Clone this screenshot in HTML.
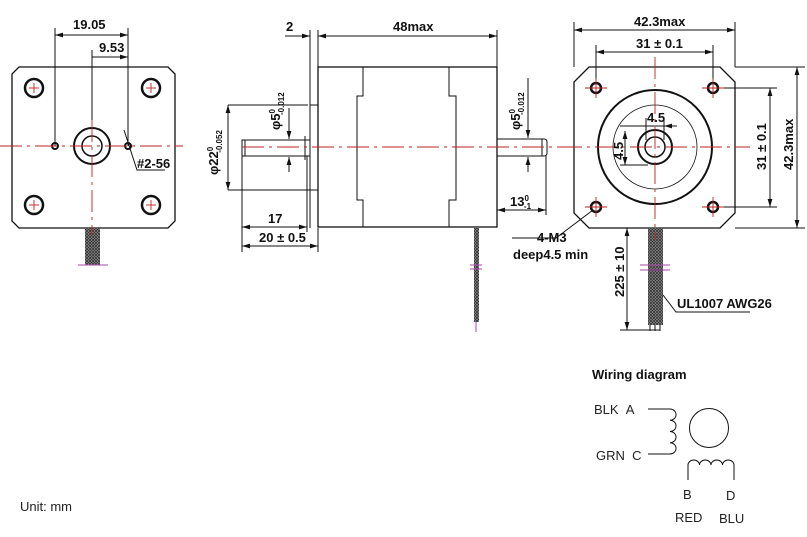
<!DOCTYPE html>
<html><head><meta charset="utf-8"><style>
html,body{margin:0;padding:0;background:#fff;}
svg{display:block;}
.d{font-family:"Liberation Sans Narrow","Liberation Sans",sans-serif;font-weight:bold;font-size:13px;fill:#111;}
.w{font-family:"Liberation Sans",sans-serif;font-size:13px;fill:#222;}
</style></head><body>
<svg width="807" height="537" viewBox="0 0 807 537" xmlns="http://www.w3.org/2000/svg">
<defs>
<marker id="a" viewBox="0 0 10 6" refX="10" refY="3" markerWidth="8" markerHeight="5" orient="auto-start-reverse"><path d="M0,0L10,3L0,6z" fill="#111"/></marker>
<pattern id="h" width="3" height="3" patternUnits="userSpaceOnUse"><rect width="3" height="3" fill="#999"/><path d="M0,0L3,3M3,0L0,3" stroke="#333" stroke-width="0.8"/></pattern>
</defs>
<g fill="none" stroke="#111" stroke-width="1">
<!-- LEFT VIEW -->
<path d="M19,67H168L175,74V221L168,228H19L12,221V74Z" stroke-width="1.3"/>
<circle cx="92" cy="146" r="18" stroke-width="2"/>
<circle cx="92" cy="146" r="10" stroke-width="1.5"/>
<g stroke-width="2.5"><circle cx="34" cy="88" r="9"/><circle cx="151" cy="88" r="9"/><circle cx="34" cy="205" r="9"/><circle cx="151" cy="205" r="9"/></g>
<g stroke="#c33" stroke-width="1"><path d="M29,88h10M34,83v10M146,88h10M151,83v10M29,205h10M34,200v10M146,205h10M151,200v10"/></g>
<circle cx="55" cy="146" r="3" stroke-width="2"/><circle cx="128" cy="146" r="3" stroke-width="2"/>
<path d="M55,28V146M128,28V146M92,50V120"/>
<path d="M55,35H128" marker-start="url(#a)" marker-end="url(#a)"/>
<path d="M92,57H128" marker-end="url(#a)"/>
<path d="M124,130L137,170H165"/>
<rect x="85" y="228" width="15" height="37" fill="url(#h)" stroke="none"/>
<path d="M78,265H108" stroke="#a4a"/>
<!-- MIDDLE VIEW -->
<rect x="318" y="67" width="179" height="160" stroke-width="1.3"/>
<path d="M363,67V96H357V200H363V227M449,67V96H456V200H449V227"/>
<path d="M310,30V228M318,30V67M497,30V67"/>
<path d="M310,140H242V156H310M245,140V156M310,105H318M310,190H318M305,136V160"/>
<path d="M497,139H544Q547,139 547,142V153Q547,156 544,156H497"/>
<path d="M542,139V156"/>
<path d="M285,36H310" marker-end="url(#a)"/><path d="M318,36H497" marker-start="url(#a)" marker-end="url(#a)"/>
<path d="M228,105H308M228,190H318M228,105V190" />
<path d="M228,105V190" marker-start="url(#a)" marker-end="url(#a)"/>
<path d="M289,108V139" marker-end="url(#a)"/><path d="M289,172V157" marker-end="url(#a)"/>
<path d="M262,105H295"/>
<path d="M242,156V252M307,156V232M318,228V252M546,156V215"/>
<path d="M242,227H307" marker-start="url(#a)" marker-end="url(#a)"/>
<path d="M242,246H318" marker-start="url(#a)" marker-end="url(#a)"/>
<path d="M497,210H546" marker-start="url(#a)" marker-end="url(#a)"/>
<path d="M528,78V138" marker-end="url(#a)"/><path d="M528,172V157" marker-end="url(#a)"/>
<rect x="474" y="228" width="5" height="94" fill="url(#h)" stroke="none"/>
<path d="M476,322V332M470,265H482M470,269H482" stroke="#a4a"/>
<!-- RIGHT VIEW -->
<path d="M589,67H720L735,82V213L720,228H589L574,213V82Z" stroke-width="1.3"/>
<circle cx="655" cy="147" r="57" stroke-width="2"/>
<circle cx="655" cy="147" r="42" stroke-width="0.8"/>
<circle cx="655" cy="147" r="17" stroke-width="2"/>
<circle cx="655" cy="147" r="10" stroke-width="1.5"/>
<g stroke-width="2.5"><circle cx="596" cy="88" r="5"/><circle cx="713" cy="88" r="5"/><circle cx="596" cy="207" r="5"/><circle cx="713" cy="207" r="5"/></g>
<path d="M574,22V67M735,22V67M596,45V80M713,45V80"/>
<path d="M574,30H735" marker-start="url(#a)" marker-end="url(#a)"/>
<path d="M596,52H713" marker-start="url(#a)" marker-end="url(#a)"/>
<path d="M720,88H777M720,207H777M735,67H805M735,228H805"/>
<path d="M770,88V207" marker-start="url(#a)" marker-end="url(#a)"/>
<path d="M797,67V228" marker-start="url(#a)" marker-end="url(#a)"/>
<path d="M620,126H675M625,131V165M620,165H648"/>
<path d="M625,131V165" marker-start="url(#a)" marker-end="url(#a)"/>
<path d="M638,126H677" />
<path d="M646,118V140M664,118V140"/>
<path d="M637,126H646M673,126H664" marker-end="url(#a)"/>
<path d="M593,210L556,238H512"/>
<rect x="648" y="228" width="15" height="97" fill="url(#h)" stroke="none"/>
<path d="M650,325V331M655,325V331M660,325V331"/>
<path d="M640,265H670M640,270H670" stroke="#a4a"/>
<path d="M620,330H660"/>
<path d="M627,228V330" marker-start="url(#a)" marker-end="url(#a)"/>
<path d="M663,295L676,312H750"/>
<!-- wiring -->
<path d="M648,409H670M648,454H670"/>
<path d="M670,409a6,5.6 0 0 1 0,11.25a6,5.6 0 0 1 0,11.25a6,5.6 0 0 1 0,11.25a6,5.6 0 0 1 0,11.25"/>
<circle cx="709" cy="428" r="19.5"/>
<path d="M688,480V465a5.75,5 0 0 1 11.5,0a5.75,5 0 0 1 11.5,0a5.75,5 0 0 1 11.5,0a5.75,5 0 0 1 11.5,0V480"/>
</g>
<!-- centerlines -->
<g stroke="#b22" stroke-width="0.9" stroke-dasharray="22,5,3,5" fill="none">
<path d="M0,146H183M92,120V235"/>
<path d="M242,147H560"/>
<path d="M560,147H750M655,57V240M585,88H607M596,78V98M702,88H724M713,78V98M585,207H607M596,197V217M702,207H724M713,197V217"/>
</g>
<!-- text -->
<text class="d" x="73" y="29">19.05</text>
<text class="d" x="99" y="52">9.53</text>
<text class="d" x="137" y="168">#2-56</text>
<text class="d" x="286" y="31">2</text>
<text class="d" x="393" y="31">48max</text>
<text class="d" transform="translate(218,175) rotate(-90)">φ22<tspan font-size="8" dy="-5">0</tspan><tspan font-size="8" dx="-6" dy="9">-0.052</tspan></text>
<text class="d" transform="translate(280,130) rotate(-90)">φ5<tspan font-size="8" dy="-5">0</tspan><tspan font-size="8" dx="-6" dy="9">-0.012</tspan></text>
<text class="d" transform="translate(520,130) rotate(-90)">φ5<tspan font-size="8" dy="-5">0</tspan><tspan font-size="8" dx="-6" dy="9">-0.012</tspan></text>
<text class="d" x="268" y="223">17</text>
<text class="d" x="259" y="242">20 ± 0.5</text>
<text class="d" x="510" y="206">13<tspan font-size="8" dy="-5">0</tspan><tspan font-size="8" dx="-5" dy="8">-1</tspan></text>
<text class="d" x="537" y="242">4-M3</text>
<text class="d" x="513" y="259">deep4.5 min</text>
<text class="d" x="634" y="26">42.3max</text>
<text class="d" x="636" y="48">31 ± 0.1</text>
<text class="d" x="647" y="122">4.5</text>
<text class="d" transform="translate(623,160) rotate(-90)">4.5</text>
<text class="d" transform="translate(766,170) rotate(-90)">31 ± 0.1</text>
<text class="d" transform="translate(793,170) rotate(-90)">42.3max</text>
<text class="d" transform="translate(624,297) rotate(-90)">225 ± 10</text>
<text class="d" x="677" y="308">UL1007 AWG26</text>
<text class="d" x="592" y="379" font-size="11">Wiring diagram</text>
<text class="w" x="594" y="414">BLK&#160;&#160;A</text>
<text class="w" x="596" y="460">GRN&#160;&#160;C</text>
<text class="w" x="683" y="499">B</text>
<text class="w" x="726" y="500">D</text>
<text class="w" x="675" y="522">RED</text>
<text class="w" x="719" y="523">BLU</text>
<text class="w" x="20" y="511" font-size="12">Unit: mm</text>
</svg>
</body></html>
